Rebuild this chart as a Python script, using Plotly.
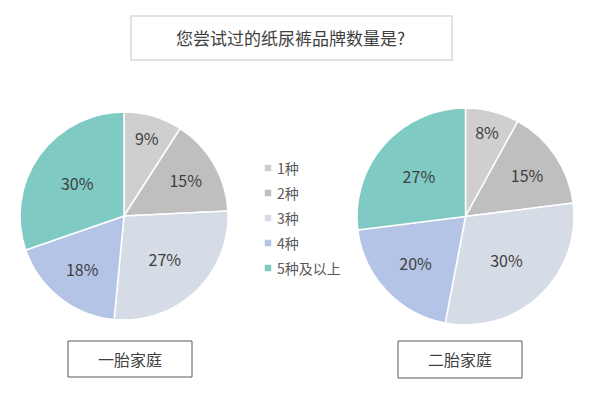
import plotly.graph_objects as go

# 数据
categorias = ["1种", "2种", "3种", "4种", "5种及以上"]
primer_hijo = [9, 15, 27, 18, 30]
segundo_hijo = [8, 15, 30, 20, 27]
colores = ["#d0cece", "#bfbfbf", "#d6dce5", "#b4c4e7", "#7fcbc4"]

titulo = "您尝试过的纸尿裤品牌数量是?"
etiqueta_izq = "一胎家庭"
etiqueta_der = "二胎家庭"

fuente = "Noto Sans CJK SC"

fig = go.Figure()

for valores, dom in [(primer_hijo, dict(x=[20/600, 228/600], y=[1-320/400, 1-112/400])),
                     (segundo_hijo, dict(x=[357/600, 574/600], y=[1-325/400, 1-108/400]))]:
    fig.add_trace(go.Pie(
        labels=categorias, values=valores,
        text=[f"{v}%" for v in valores], textinfo="text",
        textposition="inside", insidetextorientation="horizontal",
        sort=False, direction="clockwise", rotation=0,
        marker=dict(colors=colores, line=dict(color="white", width=1.5)),
        textfont=dict(family=fuente, size=16, color="#404040"),
        domain=dom, showlegend=False, hoverinfo="label+text",
    ))

def px_x(v):
    return v / 600

def px_y(v):
    return 1 - v / 400

formas = [
    dict(type="rect", xref="paper", yref="paper", x0=px_x(131), x1=px_x(452),
         y0=px_y(60), y1=px_y(16), line=dict(color="#d9d9d9", width=1.5)),
    dict(type="rect", xref="paper", yref="paper", x0=px_x(68), x1=px_x(192),
         y0=px_y(377), y1=px_y(341), line=dict(color="#595959", width=1)),
    dict(type="rect", xref="paper", yref="paper", x0=px_x(398), x1=px_x(522),
         y0=px_y(378), y1=px_y(341), line=dict(color="#595959", width=1)),
]

# leyenda manual: cuadrado pequeño + texto
leyenda_x, leyenda_y, paso, lado = 268, 168, 25, 6.5
for i, (cat, col) in enumerate(zip(categorias, colores)):
    cy = leyenda_y + i * paso
    formas.append(dict(type="rect", xref="paper", yref="paper",
                       x0=px_x(leyenda_x - lado / 2), x1=px_x(leyenda_x + lado / 2),
                       y0=px_y(cy + lado / 2), y1=px_y(cy - lado / 2),
                       fillcolor=col, line=dict(width=0)))
    fig.add_annotation(text=cat, x=px_x(leyenda_x + 7), y=px_y(cy), xref="paper", yref="paper",
                       xanchor="left", yanchor="middle", showarrow=False,
                       font=dict(family=fuente, size=14, color="#595959"))

fig.add_annotation(text=titulo, x=px_x(290), y=px_y(38), xref="paper", yref="paper",
                   xanchor="center", yanchor="middle", showarrow=False,
                   font=dict(family=fuente, size=17, color="#404040"))
fig.add_annotation(text=etiqueta_izq, x=px_x(130), y=px_y(359), xref="paper", yref="paper",
                   xanchor="center", yanchor="middle", showarrow=False,
                   font=dict(family=fuente, size=16, color="#404040"))
fig.add_annotation(text=etiqueta_der, x=px_x(460), y=px_y(359), xref="paper", yref="paper",
                   xanchor="center", yanchor="middle", showarrow=False,
                   font=dict(family=fuente, size=16, color="#404040"))

fig.update_layout(
    width=600, height=400,
    margin=dict(l=0, r=0, t=0, b=0),
    paper_bgcolor="white", plot_bgcolor="white",
    showlegend=False,
    shapes=formas,
)

fig.write_html("out.html", config={"displayModeBar": False},
               post_script="document.body.style.margin='0';")
